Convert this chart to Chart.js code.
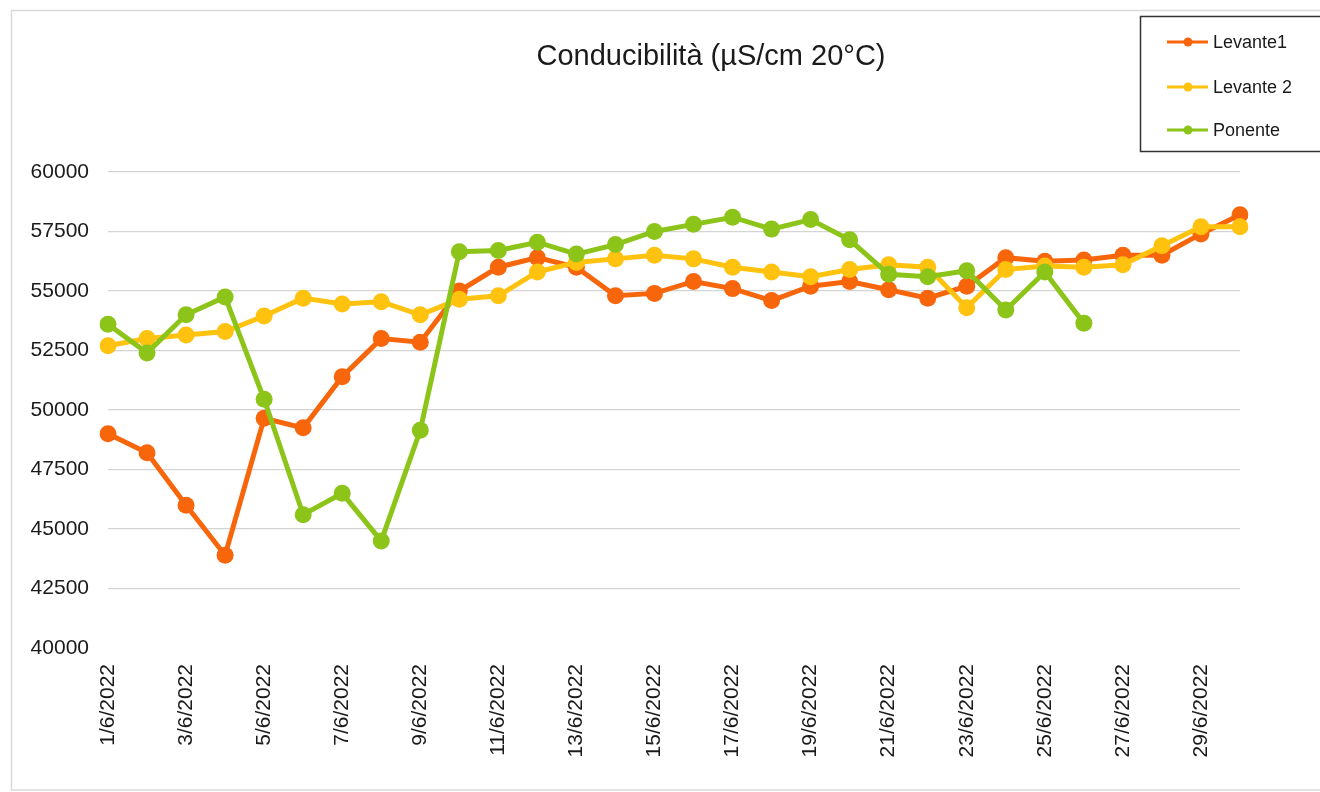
<!doctype html>
<html lang="it">
<head>
<meta charset="utf-8">
<title>Conducibilità</title>
<style>
  body { margin: 0; background: #fff; }
  #chart { display: block; }
</style>
</head>
<body>
<canvas id="chart" width="1320" height="792"></canvas>
<script src="https://cdn.jsdelivr.net/npm/chart.js@4.4.1/dist/chart.umd.min.js"></script>
<script>
// days of June 2022
var giorni = ['1/6/2022','2/6/2022','3/6/2022','4/6/2022','5/6/2022','6/6/2022','7/6/2022','8/6/2022','9/6/2022','10/6/2022',
  '11/6/2022','12/6/2022','13/6/2022','14/6/2022','15/6/2022','16/6/2022','17/6/2022','18/6/2022','19/6/2022','20/6/2022',
  '21/6/2022','22/6/2022','23/6/2022','24/6/2022','25/6/2022','26/6/2022','27/6/2022','28/6/2022','29/6/2022','30/6/2022'];

var levante1 = [49000, 48200, 46000, 43900, 49650, 49250, 51400, 53000, 52850, 55000,
  56000, 56400, 56000, 54800, 54900, 55400, 55100, 54600, 55200, 55400,
  55050, 54700, 55200, 56400, 56250, 56300, 56500, 56500, 57400, 58200];

var levante2 = [52700, 53000, 53150, 53300, 53950, 54700, 54450, 54550, 54000, 54650,
  54800, 55800, 56200, 56350, 56500, 56350, 56000, 55800, 55600, 55900,
  56100, 56000, 54300, 55900, 56050, 56000, 56100, 56900, 57700, 57700];

var ponente = [53600, 52400, 54000, 54750, 50450, 45600, 46500, 44500, 49150, 56650,
  56700, 57050, 56550, 56950, 57500, 57800, 58100, 57600, 58000, 57150,
  55700, 55600, 55850, 54200, 55800, 53650, null, null, null, null];

var nomi = ['Levante1', 'Levante 2', 'Ponente'];
var colori = ['#F8660C', '#FFC20E', '#8DC41A'];
var titolo = 'Conducibilità (µS/cm 20°C)';

// frame, title and boxed legend drawn on the canvas
var decorazioni = {
  id: 'decorazioni',
  beforeDraw: function(chart) {
    var c = chart.ctx;
    c.save();
    c.fillStyle = '#fff';
    c.fillRect(0, 0, chart.width, chart.height);
    c.strokeStyle = '#d9d9d9';
    c.lineWidth = 1.5;
    c.strokeRect(11.5, 10.5, 1330, 779.5);
    c.restore();
  },
  afterDraw: function(chart) {
    var c = chart.ctx;
    c.save();
    c.fillStyle = '#1a1a1a';
    c.font = '29px "Liberation Sans", Arial, sans-serif';
    c.textAlign = 'center';
    c.textBaseline = 'middle';
    c.fillText(titolo, 711, 57);

    c.strokeStyle = '#333';
    c.lineWidth = 1.5;
    c.strokeRect(1140.5, 16.5, 200, 135);
    var ys = [42, 87, 130];
    c.font = '18px "Liberation Sans", Arial, sans-serif';
    c.textAlign = 'left';
    for (var i = 0; i < nomi.length; i++) {
      c.strokeStyle = colori[i];
      c.lineWidth = 3;
      c.beginPath();
      c.moveTo(1167, ys[i]);
      c.lineTo(1208, ys[i]);
      c.stroke();
      c.fillStyle = colori[i];
      c.beginPath();
      c.arc(1188, ys[i], 4.5, 0, Math.PI * 2);
      c.fill();
      c.fillStyle = '#1a1a1a';
      c.fillText(nomi[i], 1213, ys[i] + 1);
    }
    c.restore();
  }
};

var serie = [levante1, levante2, ponente];
var ctx = document.getElementById('chart').getContext('2d');
var chart = new Chart(ctx, {
  type: 'line',
  data: {
    labels: giorni,
    datasets: serie.map(function(d, i) {
      return {
        label: nomi[i],
        data: d,
        borderColor: colori[i],
        backgroundColor: colori[i],
        borderWidth: 5,
        pointRadius: 8.5,
        pointBorderWidth: 0,
        pointBackgroundColor: colori[i],
        tension: 0,
        spanGaps: false,
        order: 3 - i
      };
    })
  },
  options: {
    responsive: false,
    animation: false,
    layout: { padding: { top: 172, right: 80, bottom: 0, left: 0 } },
    plugins: {
      legend: { display: false },
      title: { display: false },
      tooltip: { enabled: false }
    },
    scales: {
      x: {
        offset: false,
        afterFit: function(s) { s.height = 144; },
        grid: { display: false, drawTicks: false },
        border: { display: false },
        ticks: {
          autoSkip: false,
          minRotation: 90,
          maxRotation: 90,
          padding: 16,
          color: '#1a1a1a',
          font: { family: '"Liberation Sans", Arial, sans-serif', size: 21 },
          callback: function(v, i) { return i % 2 === 0 ? giorni[i] : ''; }
        }
      },
      y: {
        min: 40000,
        max: 60000,
        afterFit: function(s) { s.width = 108; },
        grid: {
          drawTicks: false,
          lineWidth: 1.2,
          color: function(c) { return c.tick && c.tick.value === 40000 ? 'rgba(0,0,0,0)' : '#d4d4d4'; }
        },
        border: { display: false },
        ticks: {
          stepSize: 2500,
          padding: 19,
          color: '#1a1a1a',
          font: { family: '"Liberation Sans", Arial, sans-serif', size: 21 },
          callback: function(v) { return String(v); }
        }
      }
    }
  },
  plugins: [decorazioni]
});
</script>
</body>
</html>
